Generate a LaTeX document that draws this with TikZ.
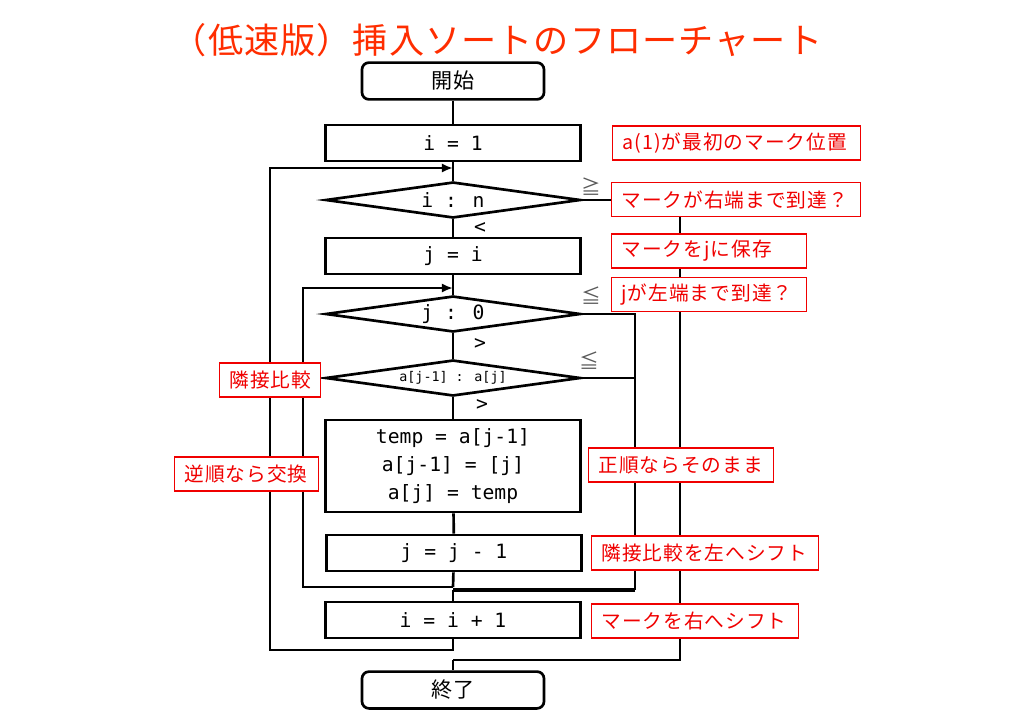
\documentclass[tikz,border=0pt]{standalone}
\usepackage{fontspec}
\usetikzlibrary{shapes.geometric,arrows.meta}
\newfontfamily\jpfont{Noto Sans CJK JP}
\newfontfamily\notefont[LetterSpace=5]{Noto Sans CJK JP}
\newfontfamily\titlefont[LetterSpace=3]{Noto Sans CJK JP}
\newfontfamily\codefont{DejaVu Sans Mono}
\definecolor{titlered}{RGB}{255,45,0}
\definecolor{notered}{RGB}{240,0,0}

\begin{document}
\begin{tikzpicture}[x=0.025cm,y=-0.025cm,
    main/.style = {draw, line width=1.9pt, minimum width=6.375cm, minimum height=0.9cm, inner sep=0pt, align=center, font=\codefont\fontsize{14}{20}\selectfont},
    terminal/.style = {draw, rounded corners=5pt, line width=1.9pt, minimum width=4.55cm, minimum height=0.92cm, font=\jpfont\fontsize{15}{18}\selectfont},
    cond/.style = {main, diamond, aspect=7},
    note/.style = {draw=notered, fill=white, text=notered, line width=0.8pt, anchor=west, align=left, inner xsep=0.25cm, inner ysep=0pt, minimum height=0.85cm, font=\notefont\fontsize{14}{17}\selectfont},
    cmpsign/.style = {text=black!65, font=\jpfont\fontsize{14}{17}\selectfont},
    flow/.style = {line width=1.9pt},
    loopline/.style = {flow, -{Latex[length=2.8mm,width=2.3mm]}}]
    \useasboundingbox (0,0) rectangle (1024,725);
    \node[font=\titlefont\fontsize{25}{30}\selectfont, text=titlered] (title) at (497,40) {（低速版）挿入ソートのフローチャート};
    \node[terminal] (1) at (453,81) {開始};
    \node[main] (2) at (453,143) {i = 1};
    \node[cond] (3) at (453,200) {i : n};
    \node[main] (4) at (453,256) {j = i};
    \node[cond] (5) at (453,314) {j : 0};
    \node[cond, font=\codefont\fontsize{9.5}{11}\selectfont] (6) at (453,378) {a[j-1] : a[j]};
    \node[main, minimum height=2.3cm] (7) at (453,466) {temp = a[j-1]\\a[j-1] = [j]\\a[j] = temp};
    \node[main] (8) at (454,553) {j = j - 1};
    \node[main] (9) at (453,620) {i = i + 1};
    \node[terminal] (10) at (453,690) {終了};
    \coordinate (ia) at (453,168);
    \coordinate (ja) at (453,288);
    \coordinate (jm) at (453,587);
    \coordinate (xm) at (453,590);
    \coordinate (jx) at (635,590);
    \coordinate (ie) at (453,660);
    \draw[flow] (1) -- (2);
    \draw[flow] (2) -- (3);
    \draw[flow] (3) -- (4);
    \draw[flow] (4) -- (5);
    \draw[flow] (5) -- (6);
    \draw[flow] (6) -- (7);
    \draw[flow] (7) -- (8);
    \draw[flow] (8) -- (jm);
    \draw[flow] (xm) -- (9);
    \draw[flow] (ie) -- (10);
    % loops back
    \draw[loopline] (9.south) |- (270,650) |- (ia);
    \draw[loopline] (jm) -| (303,288) -- (ja);
    % exits
    \draw[flow] (3.east) -| (680,660) -- (ie);
    \draw[flow] (5.east) -| (jx);
    \draw[flow, line width=2.8pt] (jx) -- (xm);
    \draw[flow] (6.east) -- (6.east -| jx);
    \node[font=\codefont\fontsize{14}{17}\selectfont] (lt) at (480,228) {<};
    \node[font=\codefont\fontsize{14}{17}\selectfont] (gt1) at (480,344) {>};
    \node[font=\codefont\fontsize{14}{17}\selectfont] (gt2) at (482,405) {>};
    \node[cmpsign] (ge) at (591,187) {≧};
    \node[cmpsign] (le1) at (591,296) {≦};
    \node[cmpsign] (le2) at (589,361) {≦};
    \node[note, text width=5.7cm] (c1) at (612,143) {a(1)が最初のマーク位置};
    \node[note, text width=5.72cm] (c2) at (611,199.5) {マークが右端まで到達？};
    \node[note, text width=4.375cm] (c3) at (611,251) {マークをjに保存};
    \node[note, text width=4.375cm] (c4) at (611,294.5) {jが左端まで到達？};
    \node[note, text width=2.025cm] (c5) at (219,380) {隣接比較};
    \node[note, text width=3.1cm] (c6) at (174,474) {逆順なら交換};
    \node[note, text width=4.125cm] (c7) at (588,465) {正順ならそのまま};
    \node[note, text width=5.175cm] (c8) at (591,553) {隣接比較を左へシフト};
    \node[note, text width=4.675cm] (c9) at (591,621) {マークを右へシフト};
\end{tikzpicture}
\end{document}
